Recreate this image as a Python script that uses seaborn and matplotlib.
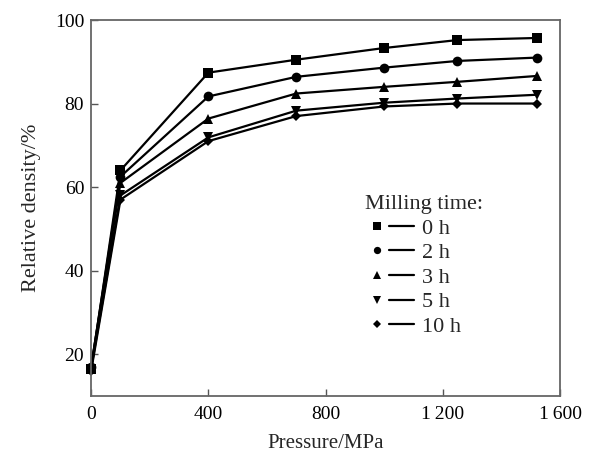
import matplotlib
matplotlib.use("Agg")
import matplotlib.pyplot as plt
from matplotlib.lines import Line2D
from matplotlib.legend_handler import HandlerTuple
import seaborn as sns
import pandas as pd

# pressure (MPa) and relative density (%) per milling time
pressure = [0, 100, 400, 700, 1000, 1250, 1520]
milling_times = ["0 h", "2 h", "3 h", "5 h", "10 h"]
density_0h = [16.5, 64.0, 87.4, 90.5, 93.3, 95.2, 95.7]
density_2h = [17.0, 62.5, 81.7, 86.4, 88.6, 90.2, 91.0]
density_3h = [17.0, 61.0, 76.4, 82.4, 84.0, 85.2, 86.6]
density_5h = [16.5, 58.0, 71.9, 78.3, 80.2, 81.2, 82.1]
density_10h = [16.0, 57.0, 71.0, 77.0, 79.3, 80.0, 80.0]
x_ticks = [0, 400, 800, 1200, 1600]
x_tick_labels = ["0", "400", "800", "1\u2009200", "1\u2009600"]
y_ticks = [20, 40, 60, 80, 100]

series = [density_0h, density_2h, density_3h, density_5h, density_10h]
df = pd.concat(
    [pd.DataFrame({"pressure": pressure, "density": vals, "time": t})
     for t, vals in zip(milling_times, series)],
    ignore_index=True)

sns.set_style("ticks")
plt.rcParams["font.family"] = ["Liberation Serif", "DejaVu Serif"]

markers = ["s", "o", "^", "v", "D"]
msizes = [7, 7, 7, 7, 5]

fig = plt.figure(figsize=(5.92, 4.55), dpi=100)
ax = fig.add_axes([0.154, 0.130, 0.792, 0.826])

sns.lineplot(data=df, x="pressure", y="density", hue="time", style="time",
             markers=dict(zip(milling_times, markers)), dashes=False,
             palette=["black"] * 5, linewidth=1.6, markeredgewidth=0,
             legend=False, ax=ax)
for line, ms in zip(ax.lines, msizes):
    line.set_markersize(ms)
    line.set_clip_on(False)

ax.set_xlim(0, 1600)
ax.set_ylim(10, 100)
ax.set_xticks(x_ticks)
ax.set_xticklabels(x_tick_labels)
ax.set_yticks(y_ticks)
ax.tick_params(direction="in", length=5, width=1, colors="#555555",
               labelcolor="black", labelsize=14)
ax.tick_params(axis="x", pad=7)
ax.tick_params(axis="y", pad=5)
for s in ax.spines.values():
    s.set_color("#666666")
    s.set_linewidth(1.3)

ax.set_xlabel("Pressure/MPa", fontsize=15, labelpad=8)
ax.set_ylabel("Relative density/%", fontsize=16, labelpad=10)

# legend: marker followed by a short line
handles = []
for m, ms in zip(markers, msizes):
    mk = Line2D([], [], marker=m, color="black", linestyle="none",
                markersize=ms * 0.75, markeredgewidth=0)
    ln = Line2D([], [], color="black", linewidth=1.6)
    handles.append((mk, ln))
leg = ax.legend(handles, milling_times, title="Milling time:",
                handler_map={tuple: HandlerTuple(ndivide=None, pad=0)},
                loc="upper left", bbox_to_anchor=(0.584, 0.534),
                frameon=False, fontsize=16, title_fontsize=16,
                handlelength=2.2, handletextpad=0.35, labelspacing=0.18,
                borderpad=0, borderaxespad=0)
leg._legend_box.align = "left"

fig.savefig("out.png", dpi=100)
